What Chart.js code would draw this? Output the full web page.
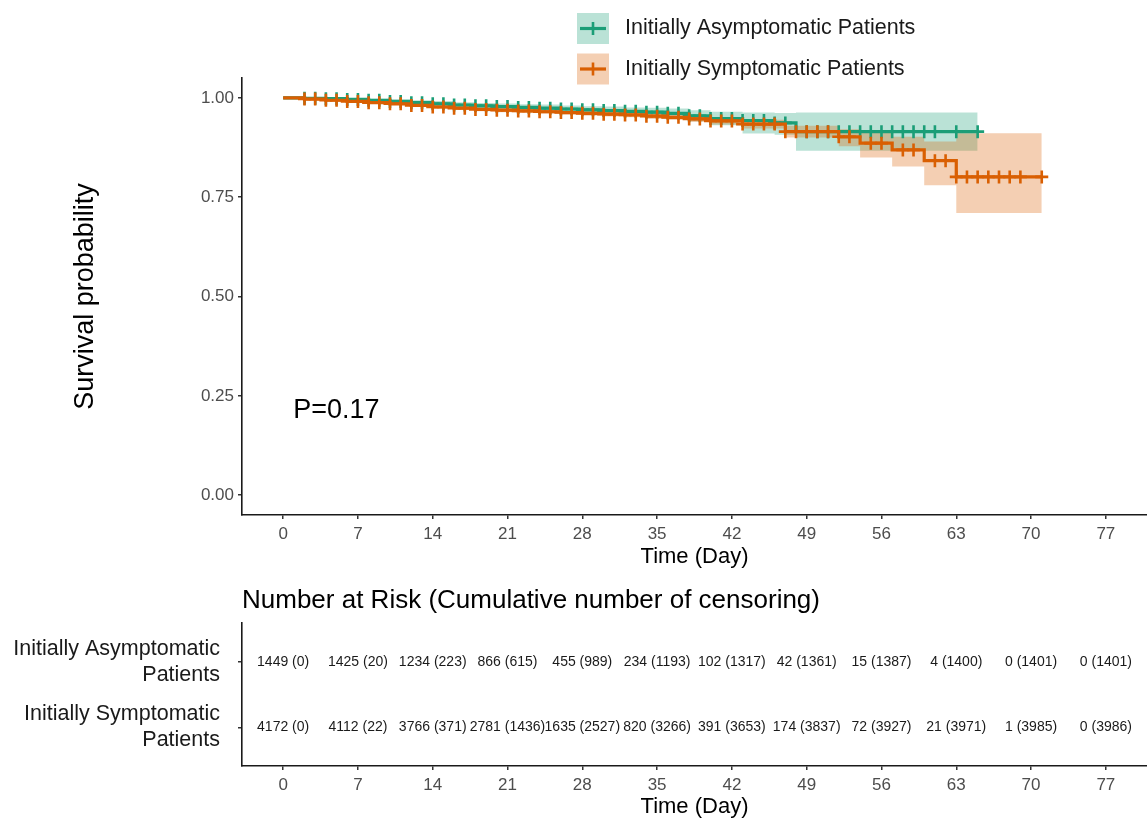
<!DOCTYPE html>
<html>
<head>
<meta charset="utf-8">
<script src="https://cdn.jsdelivr.net/npm/chart.js@4.4.1/dist/chart.umd.min.js"></script>
<style>
html, body { margin: 0; padding: 0; background: #fff; }
#wrap { position: relative; width: 1147px; height: 818px; }
#wrap canvas { position: absolute; left: 0; }
</style>
</head>
<body>
<div id="wrap">
  <canvas id="km" width="1147" height="575" style="top:0"></canvas>
  <canvas id="risk" width="1147" height="243" style="top:575px"></canvas>
</div>
<script>
const groups = ['Initially Asymptomatic Patients', 'Initially Symptomatic Patients'];
const rowLabels = [['Initially Asymptomatic', 'Patients'], ['Initially Symptomatic', 'Patients']];
const colors = ['#1B9E77', '#D95F02'];
const bandColors = ['rgba(27,158,119,0.30)', 'rgba(217,95,2,0.30)'];
const FONT = "'Liberation Sans', Arial, sans-serif";

const xTicks = [0, 7, 14, 21, 28, 35, 42, 49, 56, 63, 70, 77];
const yTicks = [0, 0.25, 0.5, 0.75, 1];

// asymptomatic group: step times, survival, CI
const asymTime  = [0, 2, 4, 6, 8, 10, 12, 14, 16, 18, 20, 22, 24, 26, 28, 30, 32, 34, 36, 38, 40, 43, 46, 48, 65];
const asymSurv  = [1.000, 0.999, 0.998, 0.996, 0.994, 0.991, 0.988, 0.985, 0.982, 0.980, 0.978, 0.976, 0.974, 0.972, 0.970, 0.968, 0.966, 0.964, 0.961, 0.955, 0.948, 0.943, 0.937, 0.915, 0.915];
const asymUpper = [1.000, 1.000, 1.000, 0.999, 0.998, 0.996, 0.994, 0.992, 0.989, 0.987, 0.986, 0.984, 0.983, 0.981, 0.979, 0.978, 0.976, 0.975, 0.973, 0.969, 0.965, 0.963, 0.962, 0.963, 0.963];
const asymLower = [1.000, 0.997, 0.995, 0.993, 0.990, 0.986, 0.982, 0.978, 0.975, 0.973, 0.970, 0.968, 0.965, 0.963, 0.961, 0.958, 0.956, 0.953, 0.949, 0.941, 0.931, 0.910, 0.907, 0.867, 0.867];
const asymCensor = [2, 3, 4, 5, 6, 7, 8, 9, 10, 11, 12, 13, 14, 15, 16, 17, 18, 19, 20, 21, 22, 23, 24, 25, 26, 27, 28, 29, 30, 31, 32, 33, 34, 35, 36, 37, 38, 39, 40, 41, 42, 43, 44, 45, 46, 47, 49, 50, 51, 52, 53, 54, 55, 56, 57, 58, 59, 60, 61, 63, 65];

// symptomatic group
const symTime  = [0, 2, 4, 6, 8, 10, 12, 14, 16, 18, 20, 22, 24, 26, 28, 30, 32, 34, 36, 38, 40, 43, 47, 52, 54, 57, 60, 63, 71];
const symSurv  = [1.000, 0.997, 0.994, 0.991, 0.988, 0.985, 0.981, 0.977, 0.974, 0.971, 0.969, 0.967, 0.965, 0.963, 0.961, 0.959, 0.957, 0.954, 0.951, 0.947, 0.942, 0.934, 0.915, 0.902, 0.886, 0.869, 0.842, 0.801, 0.801];
const symUpper = [1.000, 0.999, 0.996, 0.994, 0.991, 0.988, 0.985, 0.981, 0.978, 0.976, 0.974, 0.972, 0.970, 0.968, 0.967, 0.965, 0.963, 0.961, 0.958, 0.955, 0.951, 0.945, 0.930, 0.921, 0.912, 0.902, 0.890, 0.911, 0.911];
const symLower = [1.000, 0.995, 0.992, 0.988, 0.985, 0.982, 0.977, 0.973, 0.970, 0.966, 0.964, 0.962, 0.960, 0.958, 0.955, 0.953, 0.951, 0.947, 0.944, 0.939, 0.933, 0.923, 0.900, 0.878, 0.850, 0.827, 0.780, 0.710, 0.710];
const symCensor = [2, 3, 4, 5, 6, 7, 8, 9, 10, 11, 12, 13, 14, 15, 16, 17, 18, 19, 20, 21, 22, 23, 24, 25, 26, 27, 28, 29, 30, 31, 32, 33, 34, 35, 36, 37, 38, 39, 40, 41, 42, 43, 44, 45, 46, 47, 48, 49, 50, 51, 52, 53, 55, 56, 58, 59, 61, 62, 63, 64, 65, 66, 67, 68, 69, 71];

// number at risk (cumulative censoring)
const riskAsym = [1449, 1425, 1234, 866, 455, 234, 102, 42, 15, 4, 0, 0];
const censAsym = [0, 20, 223, 615, 989, 1193, 1317, 1361, 1387, 1400, 1401, 1401];
const riskSym  = [4172, 4112, 3766, 2781, 1635, 820, 391, 174, 72, 21, 1, 0];
const censSym  = [0, 22, 371, 1436, 2527, 3266, 3653, 3837, 3927, 3971, 3985, 3986];

const pText = 'P=0.17';

function pts(t, v) { return t.map((x, i) => ({ x: x, y: v[i] })); }
function survAt(t, s, x) {
  let v = s[0];
  for (let i = 0; i < t.length; i++) if (t[i] <= x) v = s[i];
  return v;
}
function marks(t, s, c) { return c.map(x => ({ x: x, y: survAt(t, s, x) })); }

function band(data, i, fill, order) {
  return { data, borderWidth: 0, pointRadius: 0, stepped: 'before', fill, backgroundColor: bandColors[i], order };
}
function curve(data, i, order) {
  return { label: groups[i], data, borderColor: colors[i], borderWidth: 3.2, pointRadius: 0, stepped: 'before', fill: false, order };
}
function cens(data, i, order) {
  return { data, showLine: false, pointStyle: 'cross', pointRadius: 6.5, pointBorderWidth: 2.6,
           pointBorderColor: colors[i], borderColor: colors[i], order };
}

function xScale(h, titlePadBottom) {
  return {
    type: 'linear', min: -3.85, max: 80.85,
    afterBuildTicks: s => { s.ticks = xTicks.map(v => ({ value: v })); },
    afterFit: s => { s.height = h; },
    ticks: { autoSkip: false, maxRotation: 0, padding: 5, color: '#4D4D4D', font: { size: 17, family: FONT } },
    grid: { drawOnChartArea: false, tickLength: 4, color: '#333', lineWidth: 1.5 },
    border: { color: '#1a1a1a', width: 1.6 },
    title: { display: true, text: 'Time (Day)', color: '#000', font: { size: 22, family: FONT }, padding: { top: 0, bottom: titlePadBottom } }
  };
}

const kmPlugin = {
  id: 'kmText',
  afterDraw(chart) {
    const ctx = chart.ctx;
    const x = chart.scales.x, y = chart.scales.y;
    ctx.save();
    ctx.fillStyle = '#000';
    ctx.font = '27px ' + FONT;
    ctx.textAlign = 'left';
    ctx.textBaseline = 'middle';
    ctx.fillText(pText, x.getPixelForValue(0.95), y.getPixelForValue(0.212));

    // legend
    groups.forEach((g, i) => {
      const top = 13 + i * 40.5, cy = top + 15.5;
      ctx.fillStyle = bandColors[i];
      ctx.fillRect(577, top, 32, 31);
      ctx.strokeStyle = colors[i];
      ctx.lineWidth = 3.2;
      ctx.beginPath(); ctx.moveTo(580, cy); ctx.lineTo(606, cy); ctx.stroke();
      ctx.lineWidth = 2.6;
      ctx.beginPath(); ctx.moveTo(593, cy - 6.5); ctx.lineTo(593, cy + 6.5); ctx.stroke();
      ctx.fillStyle = '#1a1a1a';
      ctx.font = '21.5px ' + FONT;
      ctx.fillText(g, 625, cy);
    });
    ctx.restore();
  }
};

new Chart(document.getElementById('km'), {
  type: 'line',
  data: {
    datasets: [
      band(pts(asymTime, asymUpper), 0, '+1', 8),
      band(pts(asymTime, asymLower), 0, false, 7),
      band(pts(symTime, symUpper), 1, '+1', 6),
      band(pts(symTime, symLower), 1, false, 5),
      curve(pts(asymTime, asymSurv), 0, 4),
      cens(marks(asymTime, asymSurv, asymCensor), 0, 3),
      curve(pts(symTime, symSurv), 1, 2),
      cens(marks(symTime, symSurv, symCensor), 1, 1)
    ]
  },
  options: {
    responsive: false,
    devicePixelRatio: 1,
    animation: false,
    events: [],
    layout: { autoPadding: false, padding: { top: 78, left: 0, right: 0, bottom: 0 } },
    plugins: { legend: { display: false }, tooltip: { enabled: false } },
    scales: {
      x: xScale(60, 5),
      y: {
        type: 'linear', min: -0.05, max: 1.05,
        afterBuildTicks: s => { s.ticks = yTicks.map(v => ({ value: v })); },
        afterFit: s => { s.width = 242; },
        ticks: { padding: 4, color: '#4D4D4D', font: { size: 17, family: FONT }, callback: v => v.toFixed(2) },
        grid: { drawOnChartArea: false, tickLength: 4, color: '#333', lineWidth: 1.5 },
        border: { color: '#1a1a1a', width: 1.6 },
        title: { display: true, text: 'Survival probability', color: '#000', font: { size: 27, family: FONT }, padding: { top: 69, bottom: 0 } }
      }
    }
  },
  plugins: [kmPlugin]
});

const riskPlugin = {
  id: 'riskText',
  afterDraw(chart) {
    const ctx = chart.ctx;
    ctx.save();
    ctx.fillStyle = '#000';
    ctx.font = '26px ' + FONT;
    ctx.textAlign = 'left';
    ctx.textBaseline = 'middle';
    ctx.fillText('Number at Risk (Cumulative number of censoring)', chart.chartArea.left, 26);

    const rows = [[riskAsym, censAsym], [riskSym, censSym]];
    ctx.font = '14px ' + FONT;
    ctx.fillStyle = '#1a1a1a';
    ctx.textAlign = 'center';
    rows.forEach((r, d) => {
      chart.getDatasetMeta(d).data.forEach((p, i) => {
        ctx.fillText(r[0][i] + ' (' + r[1][i] + ')', p.x, p.y);
      });
    });
    ctx.restore();
  }
};

new Chart(document.getElementById('risk'), {
  type: 'line',
  data: {
    datasets: [
      { label: groups[0], data: xTicks.map(t => ({ x: t, y: 1 })), showLine: false, pointRadius: 0 },
      { label: groups[1], data: xTicks.map(t => ({ x: t, y: 2 })), showLine: false, pointRadius: 0 }
    ]
  },
  options: {
    responsive: false,
    devicePixelRatio: 1,
    animation: false,
    events: [],
    layout: { autoPadding: false, padding: { top: 48, left: 0, right: 0, bottom: 0 } },
    plugins: { legend: { display: false }, tooltip: { enabled: false } },
    scales: {
      x: xScale(52, -2),
      y: {
        type: 'linear', reverse: true, min: 0.4, max: 2.59,
        afterBuildTicks: s => { s.ticks = [{ value: 1 }, { value: 2 }]; },
        afterFit: s => { s.width = 242; },
        ticks: { padding: 18, color: '#1a1a1a', font: { size: 21.5, family: FONT }, callback: v => rowLabels[Math.round(v) - 1] },
        grid: { drawOnChartArea: false, tickLength: 4, color: '#333', lineWidth: 1.5 },
        border: { color: '#1a1a1a', width: 1.6 }
      }
    }
  },
  plugins: [riskPlugin]
});
</script>
</body>
</html>
